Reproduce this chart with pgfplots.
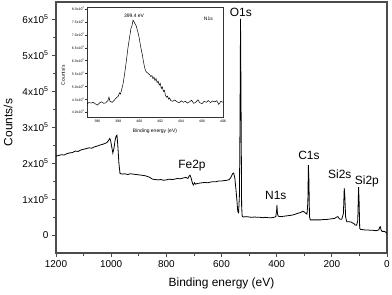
\documentclass[border=0pt]{standalone}
\usepackage{fontspec}
\setmainfont{Liberation Sans}
\usepackage{pgfplots}
\pgfplotsset{compat=1.18}
\begin{document}
\begin{tikzpicture}
\begin{axis}[
  at={(0,0)}, anchor=south west,
  scale only axis, width=331bp, height=251bp,
  x dir=reverse, xmin=0, xmax=1200, ymin=-50000, ymax=647000,
  xtick={0,200,...,1200}, minor x tick num=1,
  ytick={0,100000,200000,300000,400000,500000,600000},
  yticklabels={0,1x10\textsuperscript{5},2x10\textsuperscript{5},3x10\textsuperscript{5},4x10\textsuperscript{5},5x10\textsuperscript{5},6x10\textsuperscript{5}},
  minor y tick num=1,
  scaled ticks=false,
  tick pos=left, tick align=outside,
  major tick length=4bp, minor tick length=2.5bp,
  axis line style={line width=1.1pt, black!70},
  every tick/.style={black!70, line width=0.8pt},
  tick label style={font=\fontsize{10}{12}\selectfont},
  /pgf/number format/1000 sep={},
  /pgf/number format/assume math mode=true,
  xlabel={Binding energy (eV)}, ylabel={Counts/s},
  label style={font=\fontsize{12}{14}\selectfont},
  x label style={at={(axis description cs:0.5,-0.12)}, anchor=center},
  y label style={at={(axis description cs:-0.145,0.52)}, anchor=center},
]
\addplot[black, line width=0.8pt] coordinates {
(1200,219000)(1190,221000)(1180,223000)(1170,222000)(1160,226000)(1150,228000)(1140,229000)(1130,233000)(1120,232000)(1110,236000)(1100,238000)(1090,240000)(1080,242000)(1070,241000)(1060,245000)(1050,247000)(1040,250000)(1030,252000)(1020,255000)(1015,257000)(1010,262000)(1005,268000)(1002,262000)(998,245000)(994,228000)(990,240000)(986,262000)(982,275000)(979,277000)(976,250000)(972,200000)(968,171000)(960,169000)(950,170000)(940,168000)(930,170000)(920,169000)(910,168000)(900,167000)(890,166000)(880,165000)(870,163000)(860,160000)(850,155000)(840,154000)(830,153000)(820,154000)(810,152000)(800,153000)(790,155000)(780,154000)(770,155000)(760,157000)(750,156000)(740,158000)(730,160000)(722,157000)(718,163000)(714,166000)(711,160000)(708,152000)(705,143000)(702,139000)(698,145000)(694,141000)(688,143000)(680,144000)(670,145000)(660,146000)(650,145000)(640,147000)(630,148000)(620,148000)(610,150000)(600,150000)(590,151000)(580,152000)(572,154000)(566,160000)(560,170000)(556,172000)(552,160000)(548,130000)(544,95000)(541,65000)(538,62000)(535,110000)(533,300000)(531,600000)(529,350000)(527,80000)(525,52000)(520,50000)(510,51000)(500,50000)(490,49000)(480,50000)(470,49000)(460,49000)(450,48000)(440,49000)(430,48000)(420,48000)(410,49000)(403,51000)(400,70000)(399,83000)(397,58000)(394,52000)(385,51000)(375,52000)(365,53000)(355,54000)(345,55000)(335,57000)(325,60000)(315,62000)(305,66000)(300,64000)(294,60000)(290,58000)(287,90000)(285,194000)(283,150000)(281,50000)(278,42000)(270,42000)(260,42000)(250,42000)(240,42000)(230,43000)(220,43000)(210,44000)(200,45000)(190,46000)(182,50000)(178,51000)(174,46000)(170,44000)(164,44000)(158,60000)(155,130000)(153,110000)(150,50000)(146,37000)(140,37000)(130,36000)(124,33000)(120,32000)(116,28000)(110,27000)(106,40000)(103,133000)(101,90000)(99,18000)(95,15000)(90,15000)(80,14000)(70,14000)(60,13000)(50,13000)(40,12000)(30,14000)(26,22000)(24,23000)(22,15000)(18,10000)(10,10000)(5,8000)(1,5000)
};
\node[font=\fontsize{12}{14}\selectfont] at (axis cs:530,617000) {O1s};
\node[font=\fontsize{12}{14}\selectfont] at (axis cs:707,194000) {Fe2p};
\node[font=\fontsize{12}{14}\selectfont] at (axis cs:403,111000) {N1s};
\node[font=\fontsize{12}{14}\selectfont] at (axis cs:283,222000) {C1s};
\node[font=\fontsize{12}{14}\selectfont] at (axis cs:171,169000) {Si2s};
\node[font=\fontsize{12}{14}\selectfont] at (axis cs:73,150000) {Si2p};
\end{axis}
\begin{axis}[
  at={(31bp,136bp)}, anchor=south west,
  scale only axis, width=136bp, height=110bp,
  xmin=395, xmax=408, ymin=3.81, ymax=8.08,
  axis background/.style={fill=white},
  xtick={396,398,...,408},
  ytick={4,4.5,5,5.5,6,6.5,7,7.5,8},
  yticklabels={4.0x10\textsuperscript{3},4.5x10\textsuperscript{3},5.0x10\textsuperscript{3},5.5x10\textsuperscript{3},6.0x10\textsuperscript{3},6.5x10\textsuperscript{3},7.0x10\textsuperscript{3},7.5x10\textsuperscript{3},8.0x10\textsuperscript{3}},
  scaled ticks=false,
  tick pos=left, tick align=outside,
  major tick length=1.5bp,
  axis line style={line width=0.5pt, black!80},
  every tick/.style={black!80, line width=0.4pt},
  tick label style={font=\fontsize{3.5}{4}\selectfont, inner sep=1pt},
  /pgf/number format/assume math mode=true,
  xlabel={Binding energy (eV)}, ylabel={Counts/s},
  label style={font=\fontsize{5}{6}\selectfont},
  x label style={at={(axis description cs:0.5,-0.127)}, anchor=center},
  y label style={at={(axis description cs:-0.176,0.38)}, anchor=center},
]
\addplot[black, line width=0.5pt] coordinates {
(395.0,4.33)(395.2,4.37)(395.4,4.35)(395.6,4.38)(395.8,4.32)(396.0,4.27)(396.2,4.36)(396.4,4.40)(396.6,4.34)(396.8,4.36)(397.0,4.45)(397.1,4.58)(397.2,4.42)(397.4,4.38)(397.6,4.46)(397.8,4.55)(398.0,4.62)(398.1,4.75)(398.2,4.70)(398.3,4.85)(398.45,5.10)(398.6,5.50)(398.75,5.95)(398.9,6.45)(399.05,6.85)(399.2,7.25)(399.3,7.35)(399.4,7.57)(399.5,7.50)(399.6,7.42)(399.7,7.35)(399.8,7.20)(399.9,7.05)(400.0,6.85)(400.1,6.60)(400.2,6.40)(400.3,6.20)(400.4,5.95)(400.5,5.75)(400.6,5.60)(400.7,5.55)(400.8,5.52)(400.9,5.48)(401.0,5.45)(401.1,5.38)(401.2,5.42)(401.3,5.30)(401.4,5.36)(401.5,5.22)(401.6,5.30)(401.7,5.15)(401.8,5.20)(401.9,5.05)(402.0,5.12)(402.1,4.92)(402.2,4.98)(402.3,4.80)(402.4,4.85)(402.5,4.65)(402.6,4.58)(402.7,4.62)(402.8,4.50)(402.9,4.55)(403.0,4.45)(403.2,4.42)(403.4,4.47)(403.6,4.40)(403.8,4.36)(404.0,4.44)(404.2,4.38)(404.4,4.42)(404.6,4.35)(404.8,4.40)(405.0,4.46)(405.2,4.34)(405.4,4.38)(405.6,4.48)(405.8,4.36)(406.0,4.33)(406.2,4.42)(406.4,4.38)(406.6,4.45)(406.8,4.37)(407.0,4.43)(407.2,4.40)(407.4,4.44)(407.6,4.30)(407.8,4.42)(408.0,4.38)
};
\node[font=\fontsize{5}{6}\selectfont] at (axis cs:399.5,7.72) {399.4 eV};
\node[font=\fontsize{5}{6}\selectfont] at (axis cs:406.6,7.61) {N1s};
\end{axis}
\pgfresetboundingbox
\path (-56bp,-42bp) rectangle (336bp,253bp);
\end{tikzpicture}
\end{document}
